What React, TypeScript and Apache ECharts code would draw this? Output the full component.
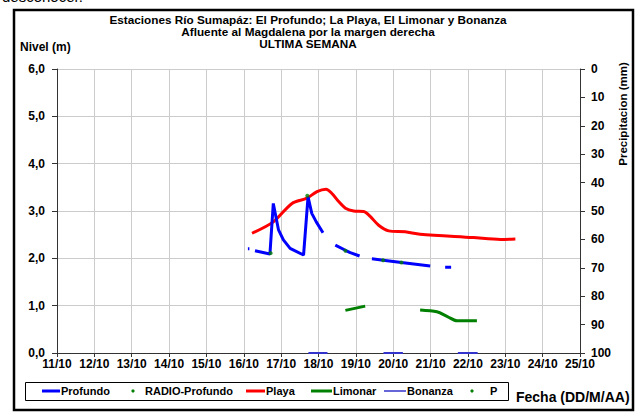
import React, { useEffect, useRef } from "react";
import * as echarts from "echarts";

// Días (día del mes de octubre, con fracción) y niveles (m)
const profundoDays = [16.11, 16.15, 16.2, 16.3, 16.7, 16.79, 16.93, 17.06, 17.24, 17.6, 17.72, 17.82, 17.94, 18.12, 18.3, 18.45, 18.72, 18.85, 19.1, 19.25, 19.43, 19.73, 20.22, 20.99, 21.2, 21.39, 21.55];
const profundoLevels = [2.2, 2.2, null, 2.16, 2.09, 3.16, 2.6, 2.39, 2.21, 2.07, 3.3, 2.95, 2.77, 2.54, null, 2.28, 2.17, 2.12, 2.05, null, 1.99, 1.96, 1.91, 1.84, null, 1.81, 1.81];

const radioDays = [16.72, 17.7, 18.72, 19.73, 20.22];
const radioLevels = [2.11, 3.32, 2.16, 1.96, 1.91];

const playaDays = [16.22, 16.79, 17.29, 17.69, 17.96, 18.2, 18.36, 18.54, 18.72, 18.94, 19.21, 19.39, 19.61, 19.88, 20.32, 20.72, 22.14, 22.87, 23.27];
const playaLevels = [2.53, 2.77, 3.16, 3.27, 3.41, 3.46, 3.37, 3.2, 3.06, 3.0, 2.99, 2.88, 2.7, 2.58, 2.56, 2.51, 2.44, 2.4, 2.41];

const limonarDays = [18.72, 19.25, 19.5, 20.72, 21.17, 21.45, 21.71, 22.24];
const limonarLevels = [0.9, 0.99, null, 0.91, 0.87, 0.77, 0.68, 0.68];

const bonanzaDays = [17.73, 18.24, 18.5, 19.74, 20.26, 20.5, 21.73, 22.26];
const bonanzaLevels = [0, 0, null, 0, 0, null, 0, 0];

const pDays: number[] = [];
const pValues: number[] = [];

const titleLines = [
  "Estaciones Río Sumapáz: El Profundo; La Playa, El Limonar y Bonanza",
  "Afluente al Magdalena por la margen derecha",
  "ULTIMA SEMANA",
];

const FONT = "Arial, 'Liberation Sans', sans-serif";

const zip = (d: number[], v: (number | null)[]) =>
  d.map((x, i) => [x, v[i] === null ? "-" : v[i]]);

export default function App() {
  const ref = useRef<HTMLDivElement>(null);
  useEffect(() => {
    if (!ref.current) return;
    const chart = echarts.init(ref.current, undefined, { renderer: "svg" });
    const txt = (x: number, y: number, text: string, size = 11, align = "left", extra: any = {}) => ({
      type: "text",
      x,
      y,
      style: {
        text,
        fill: "#000",
        font: `bold ${size}px ${FONT}`,
        lineHeight: size,
        textAlign: align,
        textVerticalAlign: "middle",
      },
      ...extra,
    });
    const legendLine = (x1: number, x2: number, color: string, w: number) => ({
      type: "line",
      shape: { x1, y1: 391, x2, y2: 391 },
      style: { stroke: color, lineWidth: w },
    });
    const legendDot = (cx: number, color: string) => ({
      type: "circle",
      shape: { cx, cy: 391, r: 1.6 },
      style: { fill: color },
    });
    const titleText = (i: number) => ({
      type: "text",
      x: 308,
      y: 20.3 + i * 12.2,
      scaleX: 1.11,
      style: {
        text: titleLines[i],
        fill: "#000",
        font: `bold 10.6px ${FONT}`,
        textAlign: "center",
        textVerticalAlign: "middle",
      },
    });
    chart.setOption({
      animation: false,
      backgroundColor: "#fff",
      grid: { left: 57, top: 69, width: 523, height: 284, containLabel: false },
      xAxis: {
        type: "value",
        min: 11,
        max: 25,
        interval: 1,
        axisLine: { onZero: false, lineStyle: { color: "#333", width: 1 } },
        axisTick: { show: true, length: 4, lineStyle: { color: "#333" } },
        axisLabel: {
          formatter: (v: number) => `${v}/10`,
          color: "#000",
          fontFamily: FONT,
          fontWeight: "bold",
          fontSize: 12,
          margin: 5,
        },
        splitLine: { show: true, lineStyle: { color: "#cccccc", width: 1 } },
      },
      yAxis: [
        {
          type: "value",
          min: 0,
          max: 6,
          interval: 1,
          axisLine: { show: true, lineStyle: { color: "#333" } },
          axisTick: { show: true, length: 5, lineStyle: { color: "#333" } },
          axisLabel: {
            formatter: (v: number) => v.toFixed(1).replace(".", ","),
            color: "#000",
            fontFamily: FONT,
            fontWeight: "bold",
            fontSize: 12,
            margin: 12,
          },
          splitLine: { show: true, lineStyle: { color: "#cccccc", width: 1 } },
        },
        {
          type: "value",
          position: "right",
          inverse: true,
          min: 0,
          max: 100,
          interval: 10,
          axisLine: { show: true, lineStyle: { color: "#333" } },
          axisTick: { show: true, length: 5, lineStyle: { color: "#333" } },
          axisLabel: {
            color: "#000",
            fontFamily: FONT,
            fontWeight: "bold",
            fontSize: 12,
            margin: 11,
          },
          splitLine: { show: false },
        },
      ],
      series: [
        {
          name: "Limonar",
          type: "line",
          data: zip(limonarDays, limonarLevels),
          symbol: "none",
          smooth: 0.3,
          lineStyle: { color: "#008000", width: 3 },
          z: 3,
        },
        {
          name: "Playa",
          type: "line",
          data: zip(playaDays, playaLevels),
          symbol: "none",
          smooth: 0.3,
          lineStyle: { color: "#ff0000", width: 3 },
          z: 3,
        },
        {
          name: "Profundo",
          type: "line",
          data: zip(profundoDays, profundoLevels),
          symbol: "none",
          lineStyle: { color: "#0000ff", width: 3 },
          z: 4,
        },
        {
          name: "Bonanza",
          type: "line",
          data: zip(bonanzaDays, bonanzaLevels),
          symbol: "none",
          clip: false,
          lineStyle: { color: "#3333cc", width: 2 },
          z: 5,
        },
        {
          name: "RADIO-Profundo",
          type: "scatter",
          data: zip(radioDays, radioLevels),
          symbolSize: 4,
          itemStyle: { color: "#008000" },
          z: 6,
        },
        {
          name: "P",
          type: "scatter",
          yAxisIndex: 1,
          data: zip(pDays, pValues),
          symbolSize: 4,
          itemStyle: { color: "#008000" },
          z: 6,
        },
      ],
      graphic: [
        {
          type: "text",
          x: 2,
          y: -11,
          style: { text: "desconocer.", fill: "#000", font: `15px ${FONT}` },
        },
        {
          type: "rect",
          shape: { x: 14, y: 10, width: 619, height: 400 },
          style: { fill: "none", stroke: "#000", lineWidth: 2.5 },
          z: 100,
        },
        titleText(0),
        titleText(1),
        titleText(2),
        txt(20, 47, "Nivel (m)", 12, "left"),
        txt(0, 0, "Precipitacion (mm)", 11.5, "center", { x: 623, y: 114, rotation: Math.PI / 2 }),
        txt(516, 397, "Fecha (DD/M/AA)", 14, "left"),
        {
          type: "rect",
          shape: { x: 25.5, y: 382.5, width: 483, height: 18 },
          style: { fill: "#fff", stroke: "#000", lineWidth: 1 },
        },
        legendLine(42, 60, "#0000ff", 3),
        txt(61, 391, "Profundo", 11),
        legendDot(133, "#008000"),
        txt(145, 391, "RADIO-Profundo", 11),
        legendLine(246, 265, "#ff0000", 3),
        txt(266, 391, "Playa", 11),
        legendLine(311, 332, "#008000", 3),
        txt(333, 391, "Limonar", 11),
        legendLine(384, 406, "#3333cc", 1.5),
        txt(407, 391, "Bonanza", 11),
        legendDot(472, "#008000"),
        txt(490, 391, "P", 11),
      ],
    });
    return () => chart.dispose();
  }, []);
  return (
    <div
      ref={ref}
      style={{ position: "fixed", left: 0, top: 0, width: 639, height: 412, background: "#fff" }}
    />
  );
}
